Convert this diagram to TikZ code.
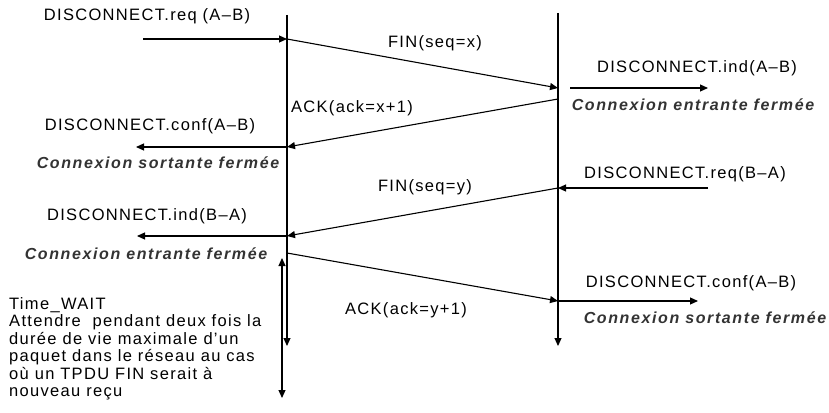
\documentclass[tikz,border=0pt]{standalone}
\usepackage{fontspec}
\setmainfont{Liberation Sans}
\newfontfamily\lblfont[LetterSpace=8]{Liberation Sans}
\newfontfamily\etatfont[LetterSpace=10]{Liberation Sans}
\usetikzlibrary{arrows.meta}

\begin{document}
\begin{tikzpicture}[
		x=1pt, y=-1pt,
		every node/.style={inner sep=0pt, font=\lblfont\fontsize{16.5}{17.5}\selectfont},
		etat/.style={text=black!80, font=\etatfont\fontsize{16}{17.5}\selectfont\bfseries\itshape},
		msg/.style={line width=1.1pt, -{Triangle[length=8pt, width=7pt]}},
		duree/.style={line width=1.1pt, {Triangle[length=8pt, width=7pt]}-{Triangle[length=8pt, width=7pt]}}
	]
  \useasboundingbox (0,0) rectangle (829,412);
  % lignes de temps
  \coordinate (A_top) at (287,15);
  \coordinate (A_bot) at (287,346);
  \coordinate (B_top) at (558,13);
  \coordinate (B_bot) at (558,346);
  \draw[msg] (A_top) -- (A_bot);
  \draw[msg] (B_top) -- (B_bot);
  % points sur les lignes
  \coordinate (A1) at (287,39);
  \coordinate (B1) at (558,88);
  \coordinate (B2) at (558,99);
  \coordinate (A2) at (287,147);
  \coordinate (B3) at (558,188);
  \coordinate (A3) at (287,236);
  \coordinate (A4) at (287,253);
  \coordinate (B4) at (558,301);
  % extremites libres
  \coordinate (u1) at (143,39);
  \coordinate (u2) at (136,147);
  \coordinate (u3) at (137,236);
  \coordinate (v1s) at (570,88);
  \coordinate (v1) at (708,88);
  \coordinate (v2) at (708,188);
  \coordinate (v3) at (698,301);
  \coordinate (T_top) at (282,258);
  \coordinate (T_bot) at (282,398);
  % textes
  \node (req_AB) at (147,16) {DISCONNECT.req (A–B)};
  \node (fin_x) at (435,43) {FIN(seq=x)};
  \node (ind_AB) at (697,68) {DISCONNECT.ind(A–B)};
  \node (ferme_1) [etat] at (693,105) {Connexion entrante fermée};
  \node (ack_x) at (352,108) {ACK(ack=x+1)};
  \node (conf_AB) at (150,126) {DISCONNECT.conf(A–B)};
  \node (ferme_2) [etat] at (158,163) {Connexion sortante fermée};
  \node (req_BA) at (685,174) {DISCONNECT.req(B–A)};
  \node (fin_y) at (425,187) {FIN(seq=y)};
  \node (ind_BA) at (147,216) {DISCONNECT.ind(B–A)};
  \node (ferme_3) [etat] at (146,254) {Connexion entrante fermée};
  \node (conf_AB2) at (691,283) {DISCONNECT.conf(A–B)};
  \node (ack_y) at (406,310) {ACK(ack=y+1)};
  \node (ferme_4) [etat] at (705,318) {Connexion sortante fermée};
  \node (wait) [anchor=north west, align=left] at (9,297)
    {Time\_WAIT\\Attendre\ \ pendant deux fois la\\durée de vie maximale d’un\\paquet dans le réseau au cas\\où un TPDU FIN serait à\\nouveau reçu};
  % messages
  \draw[msg] (u1) -- (A1);
  \draw[msg] (A1) -- (B1);
  \draw[msg] (v1s) -- (v1);
  \draw[msg] (B2) -- (A2);
  \draw[msg] (A2) -- (u2);
  \draw[msg] (v2) -- (B3);
  \draw[msg] (B3) -- (A3);
  \draw[msg] (A3) -- (u3);
  \draw[msg] (A4) -- (B4);
  \draw[msg] (B4) -- (v3);
  \draw[duree] (T_top) -- (T_bot);
\end{tikzpicture}
\end{document}
